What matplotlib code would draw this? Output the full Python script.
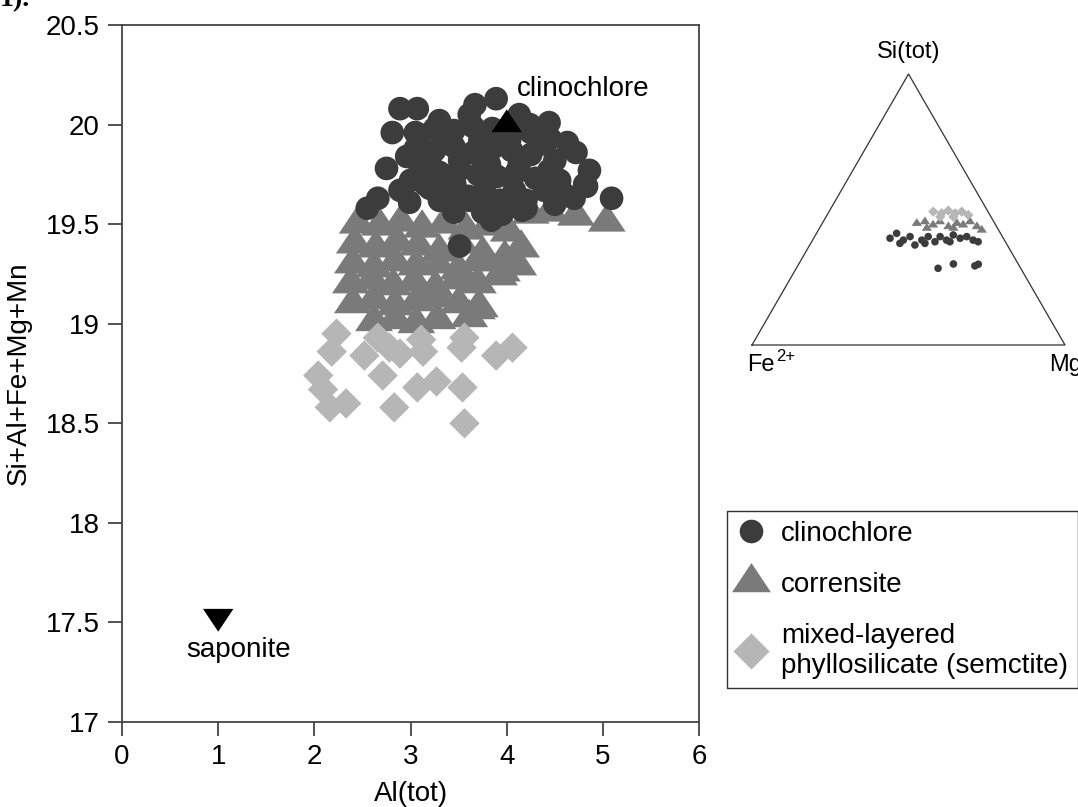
import numpy as np
import matplotlib
matplotlib.use("Agg")
import matplotlib.pyplot as plt
from matplotlib.lines import Line2D

plt.rcParams['font.family'] = ['Liberation Sans', 'DejaVu Sans']

# Al(tot) vs Si+Al+Fe+Mg+Mn, per mineral group
clino_al = [2.89, 3.07, 3.89, 2.81, 2.96, 4.44, 4.63, 4.72, 4.86, 4.83, 5.09,
            2.55, 2.66, 2.89, 2.99, 3.51, 3.84, 4.16, 3.44, 4.81,
            3.30, 3.61, 4.13, 3.41, 3.72, 4.03, 4.34, 3.20, 3.51, 3.82,
            4.13, 4.44, 3.15, 3.46, 3.77, 4.08, 4.39, 3.30, 3.61, 3.93,
            4.60, 3.09, 4.24, 3.67,
            3.05, 3.25, 3.45, 3.65, 3.85, 4.05, 4.25, 4.45,
            3.05, 3.25, 3.45, 3.65, 3.85, 4.05, 4.25, 4.50,
            3.10, 3.30, 3.50, 3.70, 3.90, 4.10, 4.30, 4.55,
            3.20, 3.40, 3.60, 3.80, 4.00, 4.20, 4.50, 4.70,
            3.45, 3.75, 3.95, 4.20, 3.00, 2.75]
clino_sum = [20.08, 20.08, 20.13, 19.96, 19.84, 20.01, 19.91, 19.86, 19.77, 19.69, 19.63,
             19.58, 19.63, 19.67, 19.61, 19.39, 19.52, 19.57, 19.59, 19.70,
             20.02, 20.05, 20.05, 19.92, 19.92, 19.92, 19.90, 19.82, 19.82, 19.80,
             19.80, 19.77, 19.70, 19.70, 19.67, 19.67, 19.67, 19.62, 19.62, 19.62,
             19.65, 19.95, 20.00, 20.10,
             19.96, 19.98, 19.97, 19.99, 19.98, 19.97, 19.96, 19.93,
             19.88, 19.87, 19.89, 19.86, 19.88, 19.87, 19.85, 19.82,
             19.78, 19.76, 19.77, 19.75, 19.74, 19.76, 19.73, 19.72,
             19.68, 19.66, 19.64, 19.60, 19.60, 19.62, 19.60, 19.63,
             19.56, 19.56, 19.55, 19.58, 19.72, 19.78]

corr_al = [2.45, 2.68, 2.90, 3.12, 3.35, 3.58, 3.80, 4.02, 4.25, 4.45, 4.72, 5.04,
           2.42, 2.64, 2.86, 3.08, 3.30, 3.52, 3.75, 3.98, 4.15,
           2.40, 2.62, 2.84, 3.06, 3.28, 3.50, 3.72, 3.95, 4.12,
           2.38, 2.60, 2.82, 3.04, 3.26, 3.48, 3.70, 3.92,
           2.40, 2.62, 2.84, 3.06, 3.28, 3.50, 3.72,
           2.62, 2.84, 3.06, 3.28, 3.61, 3.69]
corr_sum = [19.50, 19.49, 19.51, 19.48, 19.50, 19.47, 19.49, 19.46, 19.55, 19.56, 19.54, 19.51,
            19.40, 19.38, 19.41, 19.39, 19.36, 19.40, 19.35, 19.33, 19.38,
            19.30, 19.28, 19.31, 19.29, 19.30, 19.27, 19.31, 19.26, 19.29,
            19.20, 19.22, 19.19, 19.21, 19.18, 19.22, 19.20, 19.24,
            19.10, 19.12, 19.09, 19.11, 19.13, 19.10, 19.08,
            19.01, 19.02, 19.00, 19.02, 19.03, 19.07]

mixed_al = [2.23, 2.18, 2.52, 2.66, 2.78, 2.89, 3.11, 3.13, 3.56, 3.53, 3.89, 4.06,
            2.04, 2.09, 2.16, 2.33, 2.71, 2.83, 3.07, 3.27, 3.54, 3.56]
mixed_sum = [18.95, 18.86, 18.84, 18.93, 18.88, 18.85, 18.92, 18.86, 18.93, 18.88, 18.84, 18.88,
             18.74, 18.67, 18.58, 18.60, 18.74, 18.58, 18.68, 18.71, 18.68, 18.50]

# end members
end_names = ['clinochlore', 'saponite']
end_al = [4.0, 1.0]
end_sum = [20.0, 17.53]

# Si / Mg fractions for the ternary (Fe2+ is the remainder)
t_clino_si = [0.394, 0.412, 0.387, 0.400, 0.369, 0.387, 0.400, 0.381, 0.400, 0.387, 0.406,
              0.394, 0.400, 0.387, 0.381, 0.375, 0.375, 0.381, 0.283, 0.299, 0.292, 0.298]
t_clino_mg = [0.244, 0.256, 0.290, 0.305, 0.336, 0.349, 0.363, 0.394, 0.401, 0.428, 0.440,
              0.468, 0.486, 0.513, 0.532, 0.285, 0.365, 0.442, 0.453, 0.494, 0.566, 0.574]
t_corr_si = [0.449, 0.455, 0.443, 0.455, 0.437, 0.449, 0.443, 0.455, 0.437, 0.424, 0.431, 0.431]
t_corr_mg = [0.302, 0.325, 0.357, 0.373, 0.409, 0.430, 0.453, 0.469, 0.500, 0.522, 0.343, 0.428]
t_mixed_si = [0.492, 0.486, 0.496, 0.486, 0.492, 0.480, 0.473, 0.473]
t_mixed_mg = [0.333, 0.363, 0.379, 0.406, 0.424, 0.451, 0.365, 0.407]

c_clino = '#3c3c3c'
c_corr = '#7a7a7a'
c_mixed = '#b6b6b6'
tri_up = [(-1, -0.5), (1, -0.5), (0, 1)]
tri_down = [(-1, 0.5), (1, 0.5), (0, -1)]
diamond = [(0, 1), (1, 0), (0, -1), (-1, 0)]


def tern_xy(si, mg):
    si = np.asarray(si)
    mg = np.asarray(mg)
    return mg + 0.5 * si, si * np.sqrt(3) / 2


fig = plt.figure(figsize=(10.78, 8.07), dpi=100)

ax = fig.add_axes([0.1132, 0.1053, 0.5353, 0.8637])
ax.scatter(corr_al, corr_sum, s=740, marker=tri_up, c=c_corr, edgecolors='none', zorder=2)
ax.scatter(mixed_al, mixed_sum, s=480, marker=diamond, c=c_mixed, edgecolors='none', zorder=3)
ax.scatter(clino_al, clino_sum, s=290, marker='o', c=c_clino, edgecolors='none', zorder=4)
ax.scatter(end_al[:1], end_sum[:1], s=480, marker=tri_up, c='black', edgecolors='none', zorder=5)
ax.scatter(end_al[1:], end_sum[1:], s=480, marker=tri_down, c='black', edgecolors='none', zorder=5)
ax.text(4.11, 20.18, end_names[0], fontsize=20, ha='left', va='center')
ax.text(1.21, 17.36, end_names[1], fontsize=20, ha='center', va='center')

ax.set_xlim(0, 6)
ax.set_ylim(17, 20.5)
ax.set_xticks(range(7))
yt = [17, 17.5, 18, 18.5, 19, 19.5, 20, 20.5]
ax.set_yticks(yt)
ax.set_yticklabels(['17', '17.5', '18', '18.5', '19', '19.5', '20', '20.5'])
ax.tick_params(direction='out', length=10, width=1.3, labelsize=20, color='#444444', pad=6)
for sp in ax.spines.values():
    sp.set_color('#444444')
    sp.set_linewidth(1.3)
ax.set_xlabel('Al(tot)', fontsize=20, labelpad=8)
ax.set_ylabel('Si+Al+Fe+Mg+Mn', fontsize=20, labelpad=10)

# ternary Fe2+ - Mg - Si(tot)
tax = fig.add_axes([752 / 1078, 1 - 345 / 807, 313 / 1078, 271 / 807])
tax.set_xlim(0, 1)
tax.set_ylim(0, np.sqrt(3) / 2)
tax.axis('off')
tax.plot([0, 1, 0.5, 0], [0, 0, np.sqrt(3) / 2, 0], color='#333333', lw=0.9, clip_on=False)
x, y = tern_xy(t_corr_si, t_corr_mg)
tax.scatter(x, y, s=55, marker=tri_up, c=c_corr, edgecolors='none', zorder=2)
x, y = tern_xy(t_mixed_si, t_mixed_mg)
tax.scatter(x, y, s=55, marker=diamond, c=c_mixed, edgecolors='none', zorder=3)
x, y = tern_xy(t_clino_si, t_clino_mg)
tax.scatter(x, y, s=30, marker='o', c=c_clino, edgecolors='none', zorder=4)
tax.text(0.5, np.sqrt(3) / 2 + 0.035, 'Si(tot)', fontsize=17, ha='center', va='bottom')
fe = tax.text(-0.015, -0.03, 'Fe', fontsize=17, ha='left', va='top')
tax.annotate('2+', xy=(1.0, 1.0), xycoords=fe, fontsize=12, ha='left', va='top',
             xytext=(1, 4), textcoords='offset points')
tax.text(0.95, -0.03, 'Mg', fontsize=17, ha='left', va='top', clip_on=False)

handles = [
    Line2D([], [], ls='none', marker='o', ms=17, mfc=c_clino, mec='none'),
    Line2D([], [], ls='none', marker=tri_up, ms=28, mfc=c_corr, mec='none'),
    Line2D([], [], ls='none', marker=diamond, ms=26, mfc=c_mixed, mec='none'),
]
labels = ['clinochlore', 'corrensite', 'mixed-layered\nphyllosilicate (semctite)']
leg = fig.legend(handles, labels, loc='upper left', bbox_to_anchor=(727 / 1078, 1 - 511 / 807),
                 fontsize=20, frameon=True, fancybox=False, edgecolor='black',
                 handlelength=1.0, handletextpad=0.6, labelspacing=0.9, borderpad=0.35,
                 borderaxespad=0)
leg.get_frame().set_linewidth(1.0)

fig.text(0.0, 1.0, '1).', fontsize=20, fontweight='bold', family='Liberation Serif',
         ha='left', va='center')

fig.savefig('out.png', dpi=100)
